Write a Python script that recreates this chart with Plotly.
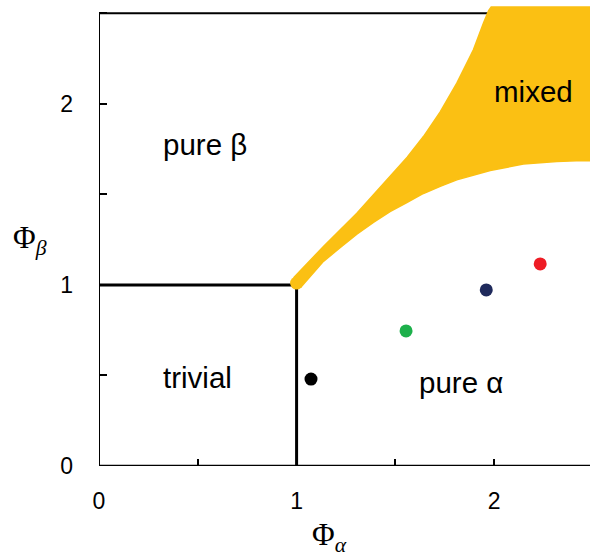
import plotly.graph_objects as go

# Region boundary of the "mixed" phase (outer edge)
mixed_upper_x = [0.985, 1.136, 1.305, 1.473, 1.560, 1.642, 1.727, 1.811, 1.895, 1.946, 1.972, 1.985]
mixed_upper_y = [1.040, 1.212, 1.396, 1.598, 1.705, 1.819, 1.955, 2.114, 2.298, 2.446, 2.515, 2.535]
mixed_right_x = [2.49, 2.49]
mixed_right_y = [2.535, 1.686]
mixed_lower_x = [2.45, 2.317, 2.148, 1.98, 1.895, 1.811, 1.727, 1.642, 1.558, 1.473, 1.389, 1.305, 1.22, 1.136, 1.02]
mixed_lower_y = [1.687, 1.681, 1.667, 1.632, 1.608, 1.580, 1.544, 1.505, 1.455, 1.405, 1.345, 1.280, 1.205, 1.130, 0.985]
tip_x = [1.0]
tip_y = [1.01]

# Phase boundary lines
trivial_v_x = [1, 1]
trivial_v_y = [0, 1]
trivial_h_x = [0, 1]
trivial_h_y = [1, 1]

# Frame
frame_left_x = [0, 0]
frame_left_y = [0, 2.5]
frame_top_x = [0, 2.1]
frame_top_y = [2.5, 2.5]
frame_bottom_x = [0, 2.49]
frame_bottom_y = [0, 0]

# Sample points
pts_x = [1.073, 1.554, 1.960, 2.233]
pts_y = [0.480, 0.746, 0.972, 1.116]
pts_color = ["#000000", "#1DB04B", "#1F2A5C", "#EE1C25"]

# Region labels
lab_text = ["pure β", "trivial", "pure α", "mixed"]
lab_x = [0.537, 0.496, 1.83, 2.20]
lab_y = [1.774, 0.49, 0.46, 2.07]

tick_vals = [0, 1, 2]
tick_text = ["0", "1", "2"]
minor_step = 0.5

YELLOW = "#FBC013"

fig = go.Figure()

for xs, ys, w in [(frame_left_x, frame_left_y, 2), (frame_top_x, frame_top_y, 2),
                  (frame_bottom_x, frame_bottom_y, 2.5),
                  (trivial_v_x, trivial_v_y, 3), (trivial_h_x, trivial_h_y, 3)]:
    fig.add_trace(go.Scatter(x=xs, y=ys, mode="lines",
                             line=dict(color="black", width=w),
                             hoverinfo="skip", showlegend=False))

poly_x = mixed_upper_x + mixed_right_x + mixed_lower_x
poly_y = mixed_upper_y + mixed_right_y + mixed_lower_y
fig.add_trace(go.Scatter(x=poly_x, y=poly_y, mode="lines", fill="toself",
                         fillcolor=YELLOW, line=dict(color=YELLOW, width=1.5),
                         hoverinfo="skip", showlegend=False))
fig.add_trace(go.Scatter(x=tip_x, y=tip_y, mode="markers",
                         marker=dict(color=YELLOW, size=13, line=dict(width=0)),
                         cliponaxis=False, hoverinfo="skip", showlegend=False))

fig.add_trace(go.Scatter(x=pts_x, y=pts_y, mode="markers",
                         marker=dict(color=pts_color, size=13, line=dict(width=0)),
                         hoverinfo="skip", showlegend=False))

for t, x, y in zip(lab_text, lab_x, lab_y):
    fig.add_annotation(x=x, y=y, text=t, showarrow=False,
                       font=dict(family="Liberation Sans", size=29.5, color="black"),
                       xanchor="center", yanchor="middle")

fig.add_annotation(xref="paper", yref="paper", x=-0.14, y=0.491,
                   text="Φ<sub><i>β</i></sub>", showarrow=False,
                   font=dict(family="Liberation Serif", size=31, color="black"),
                   xanchor="center", yanchor="middle")
fig.add_annotation(xref="paper", yref="paper", x=0.47, y=-0.202,
                   text="Φ<sub><i>α</i></sub>", showarrow=False,
                   font=dict(family="Liberation Serif", size=31, color="black"),
                   xanchor="center", yanchor="bottom")

axis_common = dict(showgrid=False, zeroline=False, showline=False,
                   ticks="inside", tickwidth=1.5, tickcolor="black",
                   tickvals=tick_vals, ticktext=tick_text,
                   tickfont=dict(family="Liberation Sans", size=23, color="black"))

fig.update_layout(
    width=590, height=559,
    margin=dict(l=99, r=0, t=6, b=93),
    paper_bgcolor="white", plot_bgcolor="white",
    xaxis=dict(range=[0, 2.485], ticklen=7, ticklabelstandoff=19,
               minor=dict(ticks="inside", ticklen=7, tickwidth=1.5, tickcolor="black",
                          tick0=0, dtick=minor_step, showgrid=False),
               **axis_common),
    yaxis=dict(range=[0, 2.54], ticklen=8, ticklabelstandoff=25,
               minor=dict(ticks="inside", ticklen=8, tickwidth=1.5, tickcolor="black",
                          tick0=0, dtick=minor_step, showgrid=False),
               **axis_common),
)

fig.write_html("out.html", config={"displayModeBar": False},
               post_script="document.body.style.margin='0';document.body.style.overflow='hidden';")
